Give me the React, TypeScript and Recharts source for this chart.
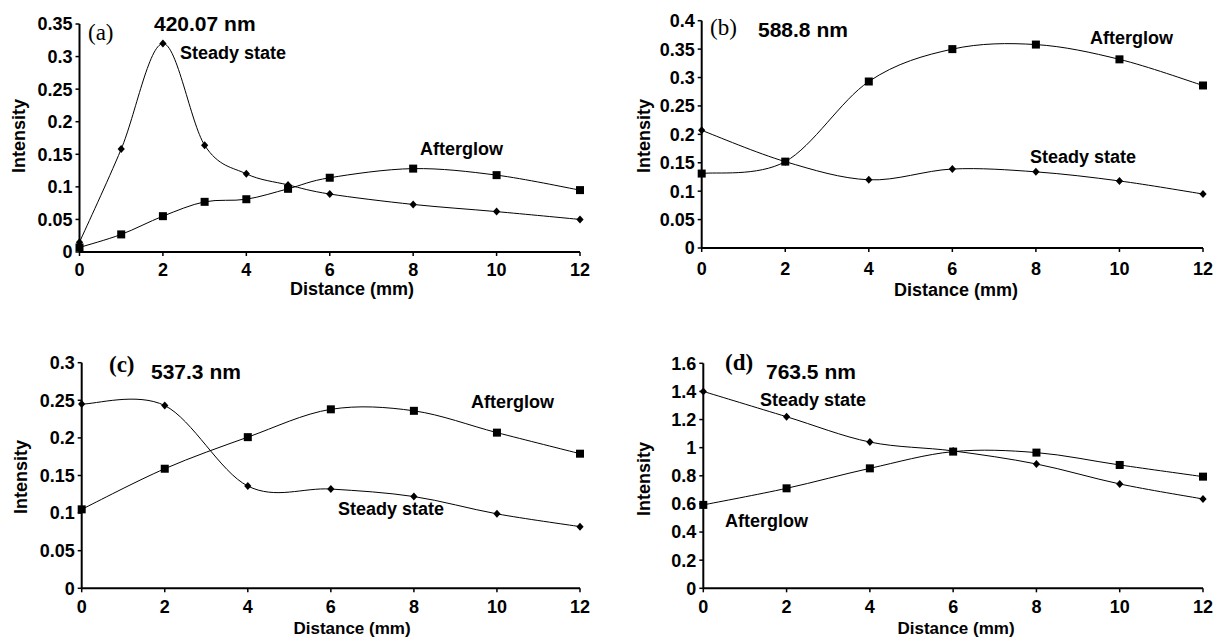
import React from 'react';
import { LineChart, Line, XAxis, YAxis } from 'recharts';

// distances (mm)
const distA = [0, 1, 2, 3, 4, 5, 6, 8, 10, 12];
const distBCD = [0, 2, 4, 6, 8, 10, 12];

// (a) 420.07 nm
const steadyA = [0.015, 0.158, 0.32, 0.164, 0.12, 0.103, 0.089, 0.073, 0.062, 0.05];
const afterA = [0.007, 0.027, 0.055, 0.077, 0.081, 0.097, 0.114, 0.128, 0.118, 0.095];
// (b) 588.8 nm
const steadyB = [0.207, 0.152, 0.12, 0.139, 0.134, 0.118, 0.095];
const afterB = [0.131, 0.152, 0.293, 0.35, 0.358, 0.332, 0.286];
// (c) 537.3 nm
const steadyC = [0.245, 0.243, 0.136, 0.132, 0.122, 0.099, 0.082];
const afterC = [0.105, 0.159, 0.201, 0.238, 0.236, 0.207, 0.179];
// (d) 763.5 nm
const steadyD = [1.4, 1.22, 1.04, 0.977, 0.884, 0.742, 0.635];
const afterD = [0.593, 0.711, 0.853, 0.972, 0.965, 0.877, 0.794];

const xTicks = [0, 2, 4, 6, 8, 10, 12];
const yTicksA = [0, 0.05, 0.1, 0.15, 0.2, 0.25, 0.3, 0.35];
const yTicksB = [0, 0.05, 0.1, 0.15, 0.2, 0.25, 0.3, 0.35, 0.4];
const yTicksC = [0, 0.05, 0.1, 0.15, 0.2, 0.25, 0.3];
const yTicksD = [0, 0.2, 0.4, 0.6, 0.8, 1, 1.2, 1.4, 1.6];

const FONT = '"Liberation Sans", Arial, Helvetica, sans-serif';
const SERIF = '"Liberation Serif", "Times New Roman", serif';

// Excel-style smoothed line (Catmull-Rom through the points)
const smoothCurve = (context: any) => {
  let pts: number[][] = [];
  return {
    areaStart() {},
    areaEnd() {},
    lineStart() {
      pts = [];
    },
    point(x: number, y: number) {
      pts.push([+x, +y]);
    },
    lineEnd() {
      if (!pts.length) return;
      context.moveTo(pts[0][0], pts[0][1]);
      for (let i = 0; i < pts.length - 1; i++) {
        const p0 = pts[i - 1] || pts[i];
        const p1 = pts[i];
        const p2 = pts[i + 1];
        const p3 = pts[i + 2] || p2;
        context.bezierCurveTo(
          p1[0] + (p2[0] - p0[0]) / 6,
          p1[1] + (p2[1] - p0[1]) / 6,
          p2[0] - (p3[0] - p1[0]) / 6,
          p2[1] - (p3[1] - p1[1]) / 6,
          p2[0],
          p2[1]
        );
      }
    },
  };
};

const diamond = (props: any) => {
  const { cx, cy, index } = props;
  return (
    <path
      key={`dm-${index}`}
      d={`M${cx},${cy - 4}L${cx + 3.6},${cy}L${cx},${cy + 4}L${cx - 3.6},${cy}Z`}
      fill="#000"
    />
  );
};

const square = (props: any) => {
  const { cx, cy, index } = props;
  return <rect key={`sq-${index}`} x={cx - 4} y={cy - 4} width={8} height={8} fill="#000" />;
};

const makeRows = (dist: number[], steady: number[], after: number[]) =>
  dist.map((d, i) => ({ d, steady: steady[i], after: after[i] }));

interface PanelProps {
  left: number;
  top: number;
  width: number;
  height: number;
  margin: { top: number; right: number; bottom: number; left: number };
  rows: { d: number; steady: number; after: number }[];
  yTicks: number[];
  xAxisHeight: number;
  xTickMargin: number;
}

const tickStyle = { fill: '#000', fontSize: 18, fontWeight: 'bold', fontFamily: FONT };

const Panel = ({ left, top, width, height, margin, rows, yTicks, xAxisHeight, xTickMargin }: PanelProps) => (
  <div style={{ position: 'absolute', left, top }}>
    <LineChart width={width} height={height} data={rows} margin={margin}>
      <XAxis
        type="number"
        dataKey="d"
        domain={[0, 12]}
        ticks={xTicks}
        height={xAxisHeight}
        axisLine={{ stroke: '#000', strokeWidth: 2 }}
        tickLine={{ stroke: '#000', strokeWidth: 1.5 }}
        tickSize={4}
        tickMargin={xTickMargin}
        tick={tickStyle}
        interval={0}
      />
      <YAxis
        type="number"
        domain={[0, yTicks[yTicks.length - 1]]}
        ticks={yTicks}
        width={60}
        axisLine={{ stroke: '#000', strokeWidth: 2 }}
        tickLine={{ stroke: '#000', strokeWidth: 1.5 }}
        tickSize={4}
        tickMargin={3}
        tick={tickStyle}
        interval={0}
        tickFormatter={(v: number) => String(+v.toFixed(2))}
      />
      <Line
        dataKey="steady"
        type={smoothCurve as any}
        stroke="#000"
        strokeWidth={1}
        dot={diamond}
        activeDot={false}
        isAnimationActive={false}
      />
      <Line
        dataKey="after"
        type={smoothCurve as any}
        stroke="#000"
        strokeWidth={1}
        dot={square}
        activeDot={false}
        isAnimationActive={false}
      />
    </LineChart>
  </div>
);

const T = ({ x, y, children, size = 18, anchor = 'start', serif = false, bold = true, rotate }: any) => (
  <text
    x={x}
    y={y}
    fontSize={size}
    fontFamily={serif ? SERIF : FONT}
    fontWeight={bold ? 'bold' : 'normal'}
    textAnchor={anchor}
    dominantBaseline="central"
    fill="#000"
    transform={rotate ? `rotate(-90 ${x} ${y})` : undefined}
  >
    {children}
  </text>
);

export default function App() {
  return (
    <div style={{ position: 'absolute', left: 0, top: 0, width: 1217, height: 638, background: '#fff' }}>
      <Panel
        left={0}
        top={0}
        width={600}
        height={310}
        margin={{ top: 24, right: 20, bottom: 18, left: 19.5 }}
        rows={makeRows(distA, steadyA, afterA)}
        yTicks={yTicksA}
        xAxisHeight={40}
        xTickMargin={7}
      />
      <Panel
        left={620}
        top={0}
        width={597}
        height={310}
        margin={{ top: 20.7, right: 14, bottom: 22, left: 21.7 }}
        rows={makeRows(distBCD, steadyB, afterB)}
        yTicks={yTicksB}
        xAxisHeight={40}
        xTickMargin={10}
      />
      <Panel
        left={0}
        top={320}
        width={600}
        height={318}
        margin={{ top: 42.7, right: 20, bottom: 19.7, left: 21.7 }}
        rows={makeRows(distBCD, steadyC, afterC)}
        yTicks={yTicksC}
        xAxisHeight={30}
        xTickMargin={8}
      />
      <Panel
        left={620}
        top={320}
        width={597}
        height={318}
        margin={{ top: 43.3, right: 14, bottom: 19.7, left: 23.3 }}
        rows={makeRows(distBCD, steadyD, afterD)}
        yTicks={yTicksD}
        xAxisHeight={30}
        xTickMargin={8}
      />
      <svg
        width={1217}
        height={638}
        style={{ position: 'absolute', left: 0, top: 0, pointerEvents: 'none' }}
      >
        {/* (a) */}
        <T x={88} y={32} size={23} serif bold={false}>(a)</T>
        <T x={154} y={23} size={21}>420.07 nm</T>
        <T x={180} y={53}>Steady state</T>
        <T x={420} y={149}>Afterglow</T>
        <T x={352} y={289} anchor="middle">Distance (mm)</T>
        <T x={19} y={136} anchor="middle" rotate>Intensity</T>
        {/* (b) */}
        <T x={710} y={27} size={23} serif bold={false}>(b)</T>
        <T x={758} y={29} size={21}>588.8 nm</T>
        <T x={1090} y={38}>Afterglow</T>
        <T x={1030} y={157}>Steady state</T>
        <T x={956} y={290} anchor="middle">Distance (mm)</T>
        <T x={644} y={136} anchor="middle" rotate>Intensity</T>
        {/* (c) */}
        <T x={109} y={364} size={23} serif>(c)</T>
        <T x={151} y={371} size={21}>537.3 nm</T>
        <T x={471} y={402}>Afterglow</T>
        <T x={338} y={509}>Steady state</T>
        <T x={352} y={628} size={17} anchor="middle">Distance (mm)</T>
        <T x={21} y={477} anchor="middle" rotate>Intensity</T>
        {/* (d) */}
        <T x={725} y={362} size={23} serif>(d)</T>
        <T x={766} y={371} size={21}>763.5 nm</T>
        <T x={760} y={400}>Steady state</T>
        <T x={725} y={521}>Afterglow</T>
        <T x={956} y={628} size={17} anchor="middle">Distance (mm)</T>
        <T x={644} y={479} anchor="middle" rotate>Intensity</T>
      </svg>
    </div>
  );
}
